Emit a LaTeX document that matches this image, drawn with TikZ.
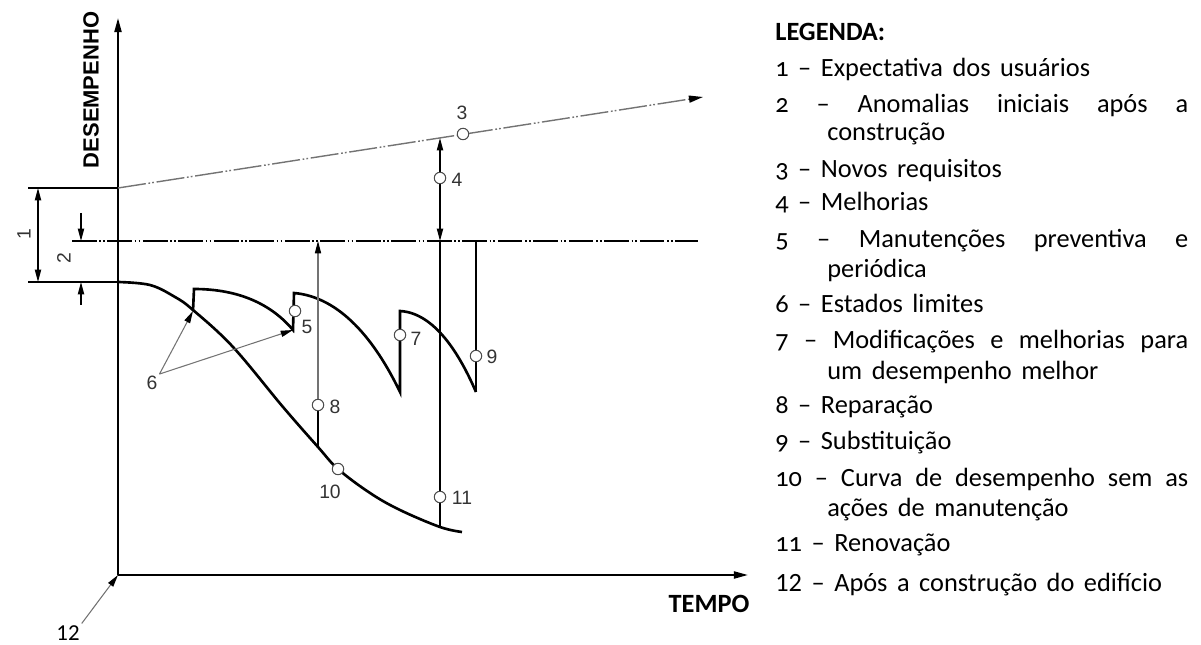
\documentclass[tikz,border=0pt]{standalone}
\usepackage{fontspec}
\setmainfont{Carlito}[Numbers=OldStyle]
\newfontfamily\legfont{Carlito}[Numbers=OldStyle, WordSpace=1.6]
\newfontfamily\isofont{Liberation Sans}
\usetikzlibrary{arrows.meta,positioning,calc}

\begin{document}
\begin{tikzpicture}[x=0.02cm, y=-0.02cm,
    axis/.style={line width=1.1pt, -{Triangle[length=8pt,width=4pt]}},
    curve/.style={line width=1.5pt},
    dimline/.style={line width=0.8pt},
    tip/.style={-{Triangle[length=7pt,width=3.5pt,black]}},
    thinline/.style={line width=0.6pt, draw=black!55},
    chain/.style={line width=0.9pt, dash pattern=on 14pt off 1.5pt on 1pt off 1.2pt on 1pt off 1.5pt},
    ring/.style={circle, draw=black!70, fill=white, line width=0.6pt, inner sep=0pt, minimum size=6.5pt},
    num/.style={font=\isofont\fontsize{11}{11}\selectfont, text=black!80, inner sep=1pt},
    leg/.style={anchor=base west, inner sep=0pt, font=\legfont\fontsize{15}{17}\selectfont}
  ]
    \useasboundingbox (0,0) rectangle (1201,645);
    % axes
    \coordinate (origin) at (118,575);
    \draw[axis] (origin) -- (118,18);
    \draw[axis] (origin) -- (748,575);
    \node[rotate=90, font=\isofont\bfseries\fontsize{12.5}{12}\selectfont] (perf) at (91,90) {DESEMPENHO};
    \node[font=\bfseries\fontsize{15}{15}\selectfont] (time) at (709,604) {TEMPO};
    \node[font=\fontsize{13}{13}\selectfont\addfontfeature{Numbers=Lining}, inner sep=1pt] (n12) at (68,633) {12};
    \draw[thinline, tip] (n12.north east) -- (origin);

    % expectation line and limit line
    \coordinate (expA) at (118,188);
    \coordinate (expB) at (703,97);
    \draw[thinline, line width=0.8pt, dash pattern=on 16pt off 1.5pt on 1pt off 1.2pt on 1pt off 1.5pt,
      -{Triangle[length=8pt,width=4pt,black]}] (expA) -- (expB);
    \coordinate (limA) at (72,241);
    \coordinate (limB) at (698,241);
    \draw[chain] (limA) -- (limB);

    % dimensions 1 and 2
    \coordinate (start) at (118,282);
    \draw[dimline] (28,188) -- (expA);
    \draw[dimline] (28,282) -- (start);
    \draw[dimline, {Triangle[length=7pt,width=3.5pt]}-{Triangle[length=7pt,width=3.5pt]}] (38,188) -- (38,282);
    \node[num, rotate=90] (n1) at (24,234) {1};
    \draw[dimline, tip] (81,213) -- (81,241);
    \draw[dimline, tip] (81,305) -- (81,282);
    \node[num, rotate=90] (n2) at (64,258) {2};

    % curve without maintenance
    \draw[curve] plot[smooth, tension=0.6] coordinates {(118,282) (150,285) (175,297) (193,310)
      (233,347) (283,407) (318,447) (338,469) (370,493) (400,510) (440,527) (462,532)};

    % curve with maintenance
    \coordinate (lim1) at (193,311);
    \coordinate (lim2) at (293,330);
    \draw[curve] (lim1) -- (194,289) .. controls (240,289) and (272,305) .. (lim2)
      -- (294,293) .. controls (340,297) and (375,340) .. (400,392)
      -- (400,311) .. controls (435,313) and (460,355) .. (476,392);

    % interventions
    \coordinate (top4) at (440,138);
    \coordinate (mid4) at (440,241);
    \coordinate (bot11) at (440,527);
    \draw[dimline, {Triangle[length=7pt,width=3.5pt]}-{Triangle[length=7pt,width=3.5pt]}] (top4) -- (mid4);
    \draw[dimline] (mid4) -- (bot11);
    \coordinate (top9) at (476,241);
    \draw[curve, line width=1.3pt] (top9) -- (476,392);
    \coordinate (top8) at (318,241);
    \coordinate (bot8) at (318,447);
    \draw[thinline, tip] (bot8) -- (top8);
    \draw[dimline] (bot8) -- (318,405);

    % rings and labels
    \node[ring] (r3) at (463,134) {};
    \node[num] (n3) at (462,113) {3};
    \node[ring] (r4) at (440,178) {};
    \node[num] (n4) at (457,180) {4};
    \node[ring] (r5) at (295,311) {};
    \node[num] (n5) at (307,327) {5};
    \node[ring] (r7) at (400,335) {};
    \node[num] (n7) at (416,339) {7};
    \node[ring] (r8) at (318,405) {};
    \node[num] (n8) at (335,407) {8};
    \node[ring] (r9) at (476,356) {};
    \node[num] (n9) at (492,357) {9};
    \node[ring] (r10) at (338,469) {};
    \node[num] (n10) at (330,492) {10};
    \node[ring] (r11) at (440,497) {};
    \node[num] (n11) at (462,498) {11};
    \node[num] (n6) at (152,383) {6};
    \draw[thinline, tip] (n6.north east) -- (lim1);
    \draw[thinline, tip] (n6.north east) -- (lim2);

    % legend
    \node[leg, font=\legfont\bfseries\fontsize{15}{17}\selectfont] (legtitle) at (775,41) {LEGENDA:};
    \node[leg] (leg1) at (775,77) {1 – Expectativa dos usuários};
    \node[leg] (leg2) at (775,113) {\makebox[8.26cm][s]{2 – Anomalias iniciais após a}};
    \node[leg] (leg2b) at (827,141) {construção};
    \node[leg] (leg3) at (775,178) {3 – Novos requisitos};
    \node[leg] (leg4) at (775,211) {4 – Melhorias};
    \node[leg] (leg5) at (775,248) {\makebox[8.26cm][s]{5 – Manutenções preventiva e}};
    \node[leg] (leg5b) at (827,278) {periódica};
    \node[leg] (leg6) at (775,313) {6 – Estados limites};
    \node[leg] (leg7) at (775,349) {\makebox[8.26cm][s]{7 – Modificações e melhorias para}};
    \node[leg] (leg7b) at (827,379) {um desempenho melhor};
    \node[leg] (leg8) at (775,414) {8 – Reparação};
    \node[leg] (leg9) at (775,449) {9 – Substituição};
    \node[leg] (leg10) at (775,486) {\makebox[8.26cm][s]{10 – Curva de desempenho sem as}};
    \node[leg] (leg10b) at (827,516) {ações de manutenção};
    \node[leg] (leg11) at (775,551) {11 – Renovação};
    \node[leg] (leg12) at (775,591) {{\addfontfeature{Numbers=Lining}12} – Após a construção do edifício};
\end{tikzpicture}
\end{document}
